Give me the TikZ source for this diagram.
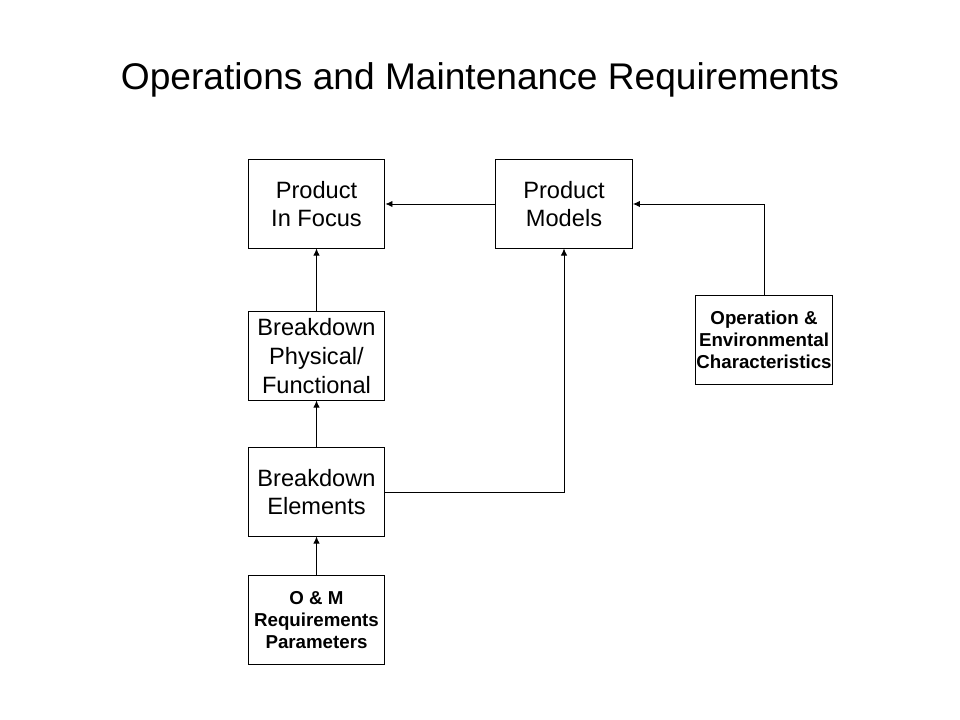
\documentclass[tikz,border=0pt]{standalone}
\usepackage{fontspec}
\setmainfont{Liberation Sans}
\usetikzlibrary{arrows.meta}
\begin{document}
\begin{tikzpicture}[x=0.025cm,y=-0.025cm,
  box/.style={draw,line width=0.7pt,minimum width=3.42cm,minimum height=2.2cm,align=center,inner sep=0pt,font=\fontsize{16.8}{20.5}\selectfont},
  boldbox/.style={box,font=\fontsize{13.3}{15.6}\selectfont\bfseries},
  link/.style={line width=0.6pt,-{Latex[length=5pt,width=4.5pt]}}]
\useasboundingbox (0,0) rectangle (960,720);
%titel
  \node (title) at (480,80) {\fontsize{26.4}{30}\selectfont Operations and Maintenance Requirements};
%kaders
  \node[box] (focus) at (316.5,204) {Product\\In Focus};
  \node[box] (models) at (564,204) {Product\\Models};
  \node[box] (physical) at (316.5,356) {Breakdown\\Physical/\\Functional};
  \node[box] (elements) at (316.5,492) {Breakdown\\Elements};
  \node[boldbox] (om) at (316.5,620) {O \& M\\Requirements\\Parameters};
  \node[boldbox] (operation) at (764,340) {Operation \&\\Environmental\\Characteristics};
%pijlen
  \draw[link] (models) -- (focus);
  \draw[link] (physical) -- (focus);
  \draw[link] (elements) -- (physical);
  \draw[link] (om) -- (elements);
  \draw[link] (operation.north) |- (models.east);
  \draw[link] (elements.east) -| (models.south);
\end{tikzpicture}
\end{document}
